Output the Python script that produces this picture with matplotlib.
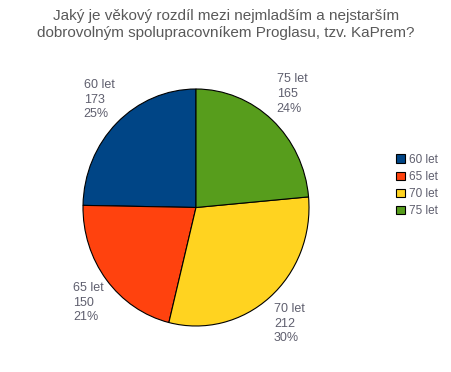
import numpy as np
import matplotlib
matplotlib.use("Agg")
import matplotlib.pyplot as plt
from matplotlib.patches import Patch

categories = ["60 let", "65 let", "70 let", "75 let"]
values = [173, 150, 212, 165]
percents = ["25%", "21%", "30%", "24%"]
colors = ["#004586", "#ff420e", "#ffd320", "#579d1c"]
title = "Jaký je věkový rozdíl mezi nejmladším a nejstarším\ndobrovolným spolupracovníkem Proglasu, tzv. KaPrem?"

plt.rcParams['font.family'] = ['Liberation Sans', 'DejaVu Sans']
text_color = "#5f5f6e"

W, H = 452, 372
fig = plt.figure(figsize=(W / 100, H / 100), dpi=100)
fig.patch.set_facecolor("white")

cx, cy, RX, RY = 196, 207.5, 113, 118.5
lim = 1.4
ax = fig.add_axes([(cx - RX * lim) / W, (H - cy - RY * lim) / H, 2 * RX * lim / W, 2 * RY * lim / H])

wedges, _ = ax.pie(values, colors=colors, startangle=90, counterclock=True, radius=1.0,
                   wedgeprops=dict(edgecolor="black", linewidth=0.8))
ax.set_aspect("auto")
ax.set_xlim(-lim, lim)
ax.set_ylim(-lim, lim)
ax.axis("off")

for w, cat, v, p in zip(wedges, categories, values, percents):
    mid = np.deg2rad((w.theta1 + w.theta2) / 2)
    d = 1.06 if np.cos(mid) > 0 else 1.03
    x, y = d * np.cos(mid), d * np.sin(mid)
    ha = "left" if np.cos(mid) > 0 else "right"
    va = "bottom" if np.sin(mid) > 0 else "top"
    ax.text(x, y, f"{cat}\n{v}\n{p}", ha=ha, va=va, multialignment="left",
            fontsize=9, color=text_color, linespacing=1.3, clip_on=False)

fig.text(0.5, 1 - 9 / H, title, ha="center", va="top", fontsize=11,
         color="#595959", linespacing=1.25)

handles = [Patch(facecolor=c, edgecolor="black", linewidth=0.8) for c in colors]
fig.legend(handles, categories, loc="center left", bbox_to_anchor=(391 / W, 1 - 185.5 / H),
           frameon=False, fontsize=8.5, handlelength=0.75, handleheight=0.75,
           handletextpad=0.4, labelspacing=0.43, labelcolor=text_color, borderaxespad=0)

fig.savefig("out.png", dpi=100)
